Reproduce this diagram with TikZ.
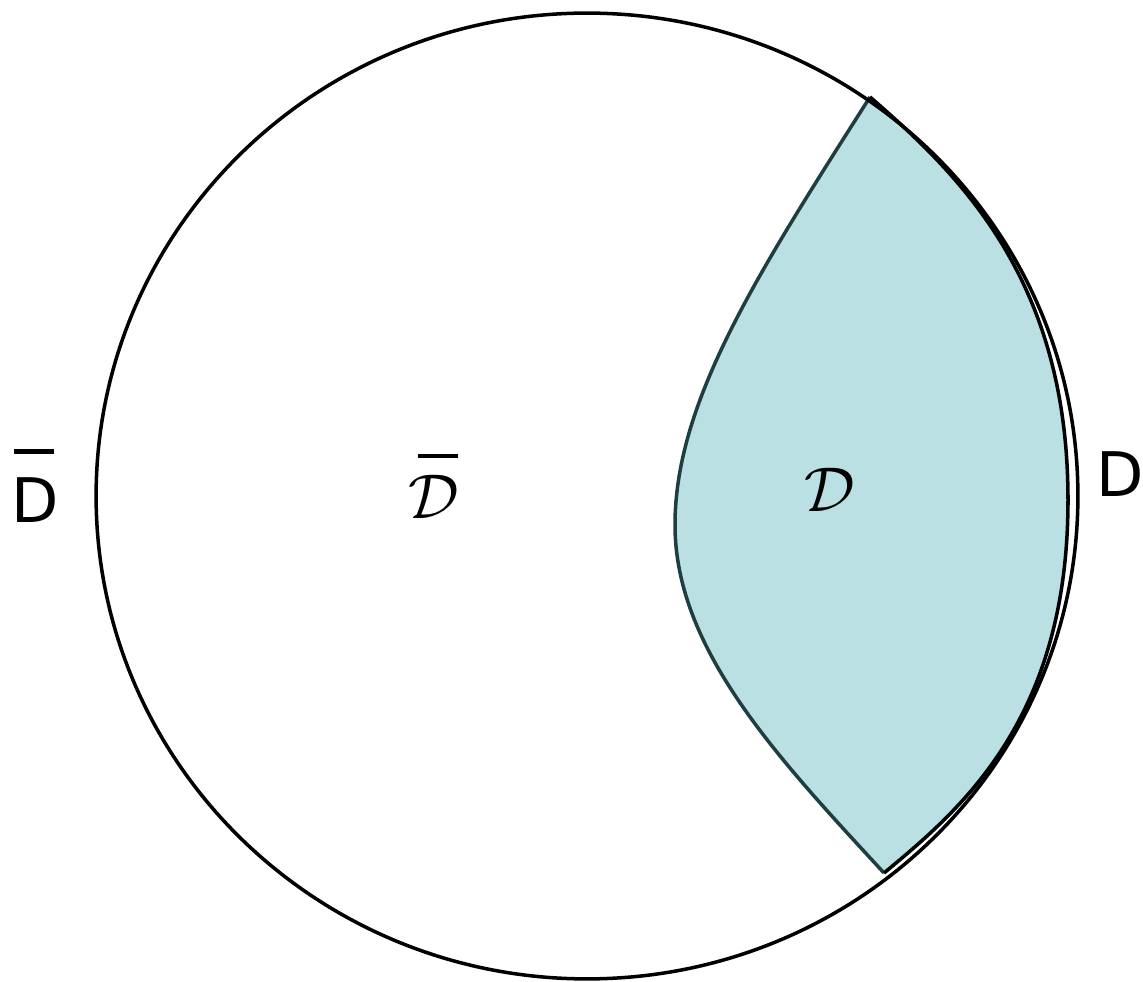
\documentclass[tikz,border=0pt]{standalone}
\usepackage{fix-cm}
\usepackage{fontspec}
\setsansfont{DejaVu Sans}
\usepackage{tikz}
\usetikzlibrary{positioning}
\definecolor{LensFill}{RGB}{186, 224, 227}
\definecolor{LensEdge}{RGB}{30, 62, 64}
% letter with a bar set well above it
\newcommand{\barred}[4]{\rlap{\hspace{#1}\raisebox{#2}{\rule{#3}{2.3pt}}}#4}

\begin{document}
\begin{tikzpicture}[x=0.02cm, y=-0.02cm]
    \path[use as bounding box] (0,0) rectangle (1143,982);
    % lens region
    \fill[LensFill] (870,97) .. controls (760,270) and (675,400) .. (675,525)
      .. controls (675,650) and (780,760) .. (884,873)
      .. controls (960,810) and (1068,720) .. (1068,500)
      .. controls (1068,280) and (960,175) .. cycle;
    \draw[LensEdge, line width=2pt] (870,97) .. controls (760,270) and (675,400) .. (675,525)
      .. controls (675,650) and (780,760) .. (884,873);
    \draw[black, line width=2pt] (884,873) .. controls (960,810) and (1068,720) .. (1068,500)
      .. controls (1068,280) and (960,175) .. (870,97);
    % outer boundary
    \draw[black, line width=2pt] (587,496) ellipse [x radius=9.82cm, y radius=9.66cm];
    % labels
    \node[anchor=base, inner sep=0pt] (dbarsf) at (35,523)
      {\fontsize{35}{40}\selectfont\sffamily \barred{0.04em}{1.13em}{0.66em}{D}};
    \node[anchor=base, inner sep=0pt] (dsf) at (1120,497)
      {\fontsize{35}{40}\selectfont\sffamily D};
    \node[anchor=base, inner sep=0pt] (dbarcal) at (434,519)
      {\fontsize{36}{40}\selectfont \barred{0.14em}{0.96em}{0.64em}{$\mathcal{D}$}};
    \node[anchor=base, inner sep=0pt] (dcal) at (830,512)
      {\fontsize{36}{40}\selectfont $\mathcal{D}$};
  \end{tikzpicture}
\end{document}
